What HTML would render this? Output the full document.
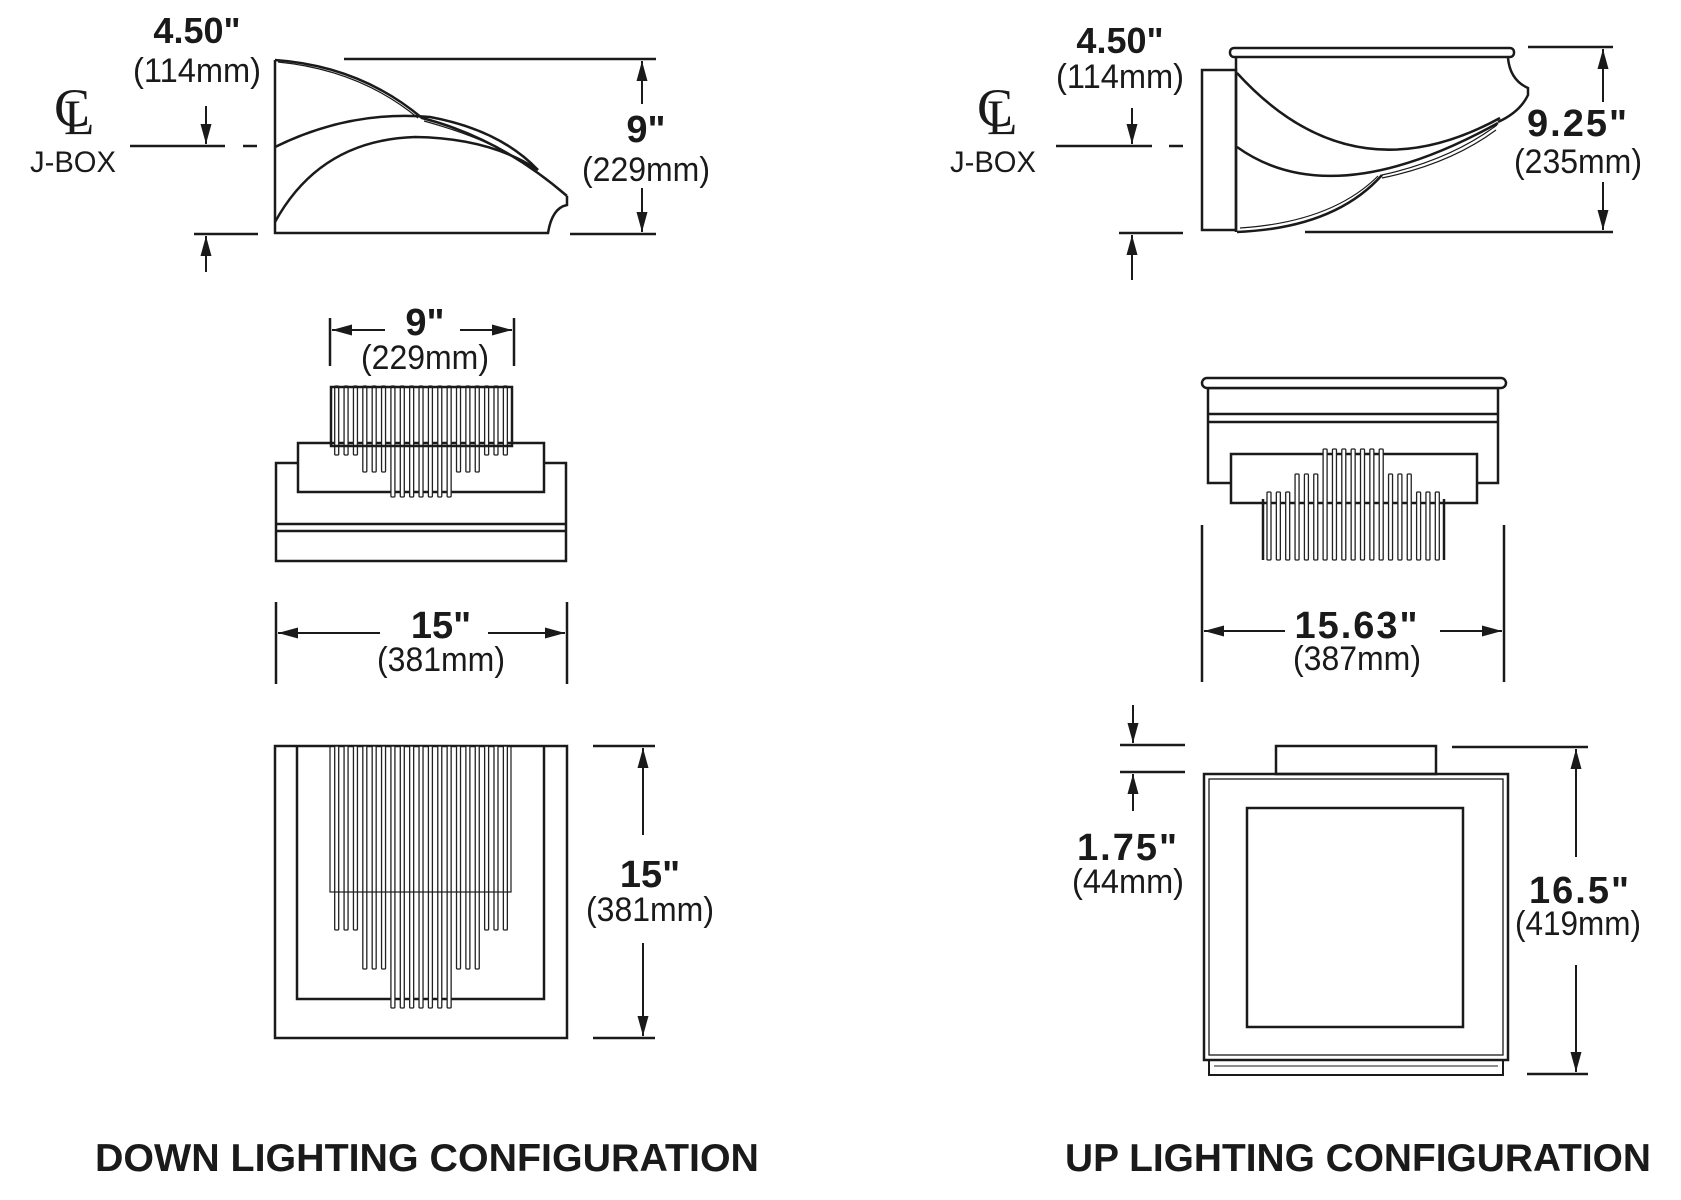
<!DOCTYPE html>
<html><head><meta charset="utf-8">
<style>
html,body{margin:0;padding:0;background:#fff;}
svg{display:block;}
.b{font-family:"Liberation Sans",sans-serif;font-weight:bold;fill:#1a1a1a;text-anchor:middle;}
.l{font-family:"Liberation Sans",sans-serif;fill:#1a1a1a;text-anchor:middle;}
</style></head>
<body>
<svg id="s" width="1681" height="1200" viewBox="0 0 1681 1200" xmlns="http://www.w3.org/2000/svg">
<defs>
<marker id="ar" viewBox="0 0 20 12" refX="20" refY="6" markerWidth="20" markerHeight="12" markerUnits="userSpaceOnUse" orient="auto">
<path d="M0,0.5 L20,6 L0,11.5 Z" fill="#1a1a1a"/>
</marker>
</defs>
<g stroke="#1a1a1a" stroke-width="2.5" fill="none">
<!-- ===== LEFT SIDE VIEW ===== -->
<path d="M275,60 L275,233 L548,233 Q552,208 567,205 L567,196"/>
<path d="M275,60 Q360,66 422,118 Q500,138 567,196"/>
<path d="M278,62 Q360,70 418,118" stroke-width="1.2"/>
<path d="M424,121 Q500,142 536,172" stroke-width="1.2"/>
<path d="M275,147 Q350,110 430,117 Q500,130 538,170"/>
<path d="M275,222 Q320,140 415,137 Q490,138 538,170"/>
<!-- jbox left -->
<line x1="130" y1="146" x2="225" y2="146"/>
<line x1="243" y1="146" x2="257" y2="146"/>
<line x1="194" y1="234" x2="258" y2="234"/>
<line x1="206" y1="106" x2="206" y2="144" stroke-width="2" marker-end="url(#ar)"/>
<line x1="206" y1="272" x2="206" y2="236" stroke-width="2" marker-end="url(#ar)"/>
<!-- 9" height -->
<line x1="344" y1="59" x2="656" y2="59"/>
<line x1="570" y1="234" x2="656" y2="234"/>
<line x1="642" y1="104" x2="642" y2="61" stroke-width="2" marker-end="url(#ar)"/>
<line x1="642" y1="188" x2="642" y2="232" stroke-width="2" marker-end="url(#ar)"/>
<!-- 9" width -->
<line x1="330" y1="318" x2="330" y2="366"/>
<line x1="514" y1="318" x2="514" y2="366"/>
<line x1="385" y1="330" x2="332" y2="330" stroke-width="2" marker-end="url(#ar)"/>
<line x1="460" y1="330" x2="512" y2="330" stroke-width="2" marker-end="url(#ar)"/>
<!-- left front view -->
<rect x="276" y="463" width="290" height="98" fill="#fff"/>
<line x1="276" y1="524" x2="566" y2="524"/>
<line x1="276" y1="531" x2="566" y2="531"/>
<rect x="298" y="443" width="246" height="49" fill="#fff"/>
<g id="lfr"></g>
<rect x="331" y="387" width="181" height="59" fill="none"/>
<!-- 15" width -->
<line x1="276" y1="602" x2="276" y2="684"/>
<line x1="567" y1="602" x2="567" y2="684"/>
<line x1="380" y1="633" x2="278" y2="633" stroke-width="2" marker-end="url(#ar)"/>
<line x1="488" y1="633" x2="565" y2="633" stroke-width="2" marker-end="url(#ar)"/>
<!-- left bottom view -->
<rect x="275" y="746" width="292" height="292"/>
<path d="M297,746 L297,999 L544,999 L544,746"/>
<g id="lbr"></g>
<rect x="330" y="746" width="181" height="146" stroke-width="1.2"/>
<line x1="593" y1="746" x2="655" y2="746"/>
<line x1="593" y1="1038" x2="655" y2="1038"/>
<line x1="643" y1="835" x2="643" y2="748" stroke-width="2" marker-end="url(#ar)"/>
<line x1="643" y1="943" x2="643" y2="1036" stroke-width="2" marker-end="url(#ar)"/>

<!-- ===== RIGHT SIDE VIEW ===== -->
<rect x="1202" y="70" width="34" height="160"/>
<rect x="1230" y="48" width="284" height="9" rx="4"/>
<path d="M1236,57 L1236,232"/>
<path d="M1508,58 Q1510,80 1528,88 L1528,95 Q1520,112 1498,122"/>
<path d="M1237,73 Q1352,199 1500,118"/>
<path d="M1237,147 Q1332,215 1498,123"/>
<path d="M1237,232 Q1335,228 1382,175"/>
<path d="M1240,228 Q1332,222 1378,176" stroke-width="1.2"/>
<path d="M1382,175 Q1450,160 1497,125" stroke-width="1.2"/>
<path d="M1382,178 Q1450,164 1496,130" stroke-width="1.2"/>
<!-- jbox right -->
<line x1="1056" y1="146" x2="1152" y2="146"/>
<line x1="1169" y1="146" x2="1183" y2="146"/>
<line x1="1119" y1="233" x2="1183" y2="233"/>
<line x1="1132" y1="108" x2="1132" y2="144" stroke-width="2" marker-end="url(#ar)"/>
<line x1="1132" y1="280" x2="1132" y2="235" stroke-width="2" marker-end="url(#ar)"/>
<!-- 9.25 -->
<line x1="1528" y1="47" x2="1613" y2="47"/>
<line x1="1305" y1="232" x2="1613" y2="232"/>
<line x1="1603" y1="102" x2="1603" y2="49" stroke-width="2" marker-end="url(#ar)"/>
<line x1="1603" y1="182" x2="1603" y2="230" stroke-width="2" marker-end="url(#ar)"/>
<!-- right front view -->
<rect x="1208" y="388" width="290" height="95" fill="#fff"/>
<line x1="1208" y1="414" x2="1498" y2="414"/>
<line x1="1208" y1="422" x2="1498" y2="422"/>
<rect x="1202" y="378" width="304" height="10" rx="5" fill="#fff"/>
<rect x="1231" y="454" width="246" height="49" fill="#fff"/>
<g id="rfr"></g>
<path d="M1263,499 L1263,560 M1444,499 L1444,560"/>
<!-- 15.63 -->
<line x1="1202" y1="525" x2="1202" y2="682"/>
<line x1="1504" y1="525" x2="1504" y2="682"/>
<line x1="1285" y1="631" x2="1204" y2="631" stroke-width="2" marker-end="url(#ar)"/>
<line x1="1440" y1="631" x2="1502" y2="631" stroke-width="2" marker-end="url(#ar)"/>
<!-- right bottom view -->
<rect x="1276" y="746" width="160" height="28"/>
<rect x="1204" y="774" width="304" height="286"/>
<rect x="1209" y="779" width="294" height="276" stroke-width="1.3"/>
<rect x="1247" y="808" width="216" height="219"/>
<rect x="1209" y="1060" width="294" height="15" stroke-width="2"/>
<line x1="1214" y1="1066" x2="1498" y2="1066" stroke-width="1"/>
<!-- 1.75 -->
<line x1="1120" y1="745" x2="1185" y2="745"/>
<line x1="1120" y1="772" x2="1185" y2="772"/>
<line x1="1133" y1="705" x2="1133" y2="743" stroke-width="2" marker-end="url(#ar)"/>
<line x1="1133" y1="811" x2="1133" y2="774" stroke-width="2" marker-end="url(#ar)"/>
<!-- 16.5 -->
<line x1="1452" y1="747" x2="1588" y2="747"/>
<line x1="1527" y1="1074" x2="1588" y2="1074"/>
<line x1="1576" y1="857" x2="1576" y2="749" stroke-width="2" marker-end="url(#ar)"/>
<line x1="1576" y1="965" x2="1576" y2="1072" stroke-width="2" marker-end="url(#ar)"/>
</g>

<!-- TEXT -->
<text class="b" x="197" y="43" font-size="36">4.50"</text>
<text class="l" x="197" y="82" font-size="34" textLength="128" lengthAdjust="spacingAndGlyphs">(114mm)</text>
<text x="54" y="126" font-family="Liberation Serif,serif" font-size="54" fill="#1a1a1a">C</text>
<text x="64" y="134" font-family="Liberation Serif,serif" font-size="50" fill="#1a1a1a">L</text>
<text class="l" x="73" y="172" font-size="30" textLength="86" lengthAdjust="spacingAndGlyphs">J-BOX</text>
<text class="b" x="646" y="142" font-size="38">9"</text>
<text class="l" x="646" y="181" font-size="34" textLength="128" lengthAdjust="spacingAndGlyphs">(229mm)</text>
<text class="b" x="425" y="335" font-size="38">9"</text>
<text class="l" x="425" y="369" font-size="34" textLength="128" lengthAdjust="spacingAndGlyphs">(229mm)</text>
<text class="b" x="441" y="638" font-size="38">15"</text>
<text class="l" x="441" y="671" font-size="34" textLength="128" lengthAdjust="spacingAndGlyphs">(381mm)</text>
<text class="b" x="650" y="887" font-size="38">15"</text>
<text class="l" x="650" y="921" font-size="34" textLength="128" lengthAdjust="spacingAndGlyphs">(381mm)</text>
<text class="b" x="427" y="1171" font-size="39" textLength="664" lengthAdjust="spacingAndGlyphs">DOWN LIGHTING CONFIGURATION</text>

<text class="b" x="1120" y="53" font-size="36">4.50"</text>
<text class="l" x="1120" y="88" font-size="34" textLength="128" lengthAdjust="spacingAndGlyphs">(114mm)</text>
<text x="977" y="126" font-family="Liberation Serif,serif" font-size="54" fill="#1a1a1a">C</text>
<text x="987" y="134" font-family="Liberation Serif,serif" font-size="50" fill="#1a1a1a">L</text>
<text class="l" x="993" y="172" font-size="30" textLength="86" lengthAdjust="spacingAndGlyphs">J-BOX</text>
<text class="b" x="1578" y="136" font-size="38" letter-spacing="2">9.25"</text>
<text class="l" x="1578" y="173" font-size="34" textLength="128" lengthAdjust="spacingAndGlyphs">(235mm)</text>
<text class="b" x="1357" y="638" font-size="38" letter-spacing="2">15.63"</text>
<text class="l" x="1357" y="670" font-size="34" textLength="128" lengthAdjust="spacingAndGlyphs">(387mm)</text>
<text class="b" x="1128" y="860" font-size="38" letter-spacing="2">1.75"</text>
<text class="l" x="1128" y="893" font-size="34" textLength="112" lengthAdjust="spacingAndGlyphs">(44mm)</text>
<text class="b" x="1580" y="903" font-size="38" letter-spacing="2">16.5"</text>
<text class="l" x="1578" y="935" font-size="34" textLength="126" lengthAdjust="spacingAndGlyphs">(419mm)</text>
<text class="b" x="1358" y="1171" font-size="39" textLength="586" lengthAdjust="spacingAndGlyphs">UP LIGHTING CONFIGURATION</text>
</svg>
<script>
(function(){
var NS="http://www.w3.org/2000/svg";
function rod(g,x,y1,y2){var r=document.createElementNS(NS,"rect");r.setAttribute("x",x-2);r.setAttribute("y",y1);r.setAttribute("width",4);r.setAttribute("height",y2-y1);r.setAttribute("rx",1);r.setAttribute("fill","#fff");r.setAttribute("stroke","#222");r.setAttribute("stroke-width","1.3");g.appendChild(r);}
function lenIdx(i){if(i<3||i>15)return 0;if(i<6||i>12)return 1;return 2;}
var g1=document.getElementById("lfr"),g2=document.getElementById("lbr"),g3=document.getElementById("rfr");
var e1=[455,472,497],e2=[930,969,1008],t3=[492,474,449];
for(var i=0;i<19;i++){
 var x=336.7+9.37*i,k=lenIdx(i);
 rod(g1,x,386,e1[k]);
 rod(g2,x,746,e2[k]);
 var xr=1269+9.35*i;
 rod(g3,xr,t3[k],560);
}
})();
</script>
</body></html>
